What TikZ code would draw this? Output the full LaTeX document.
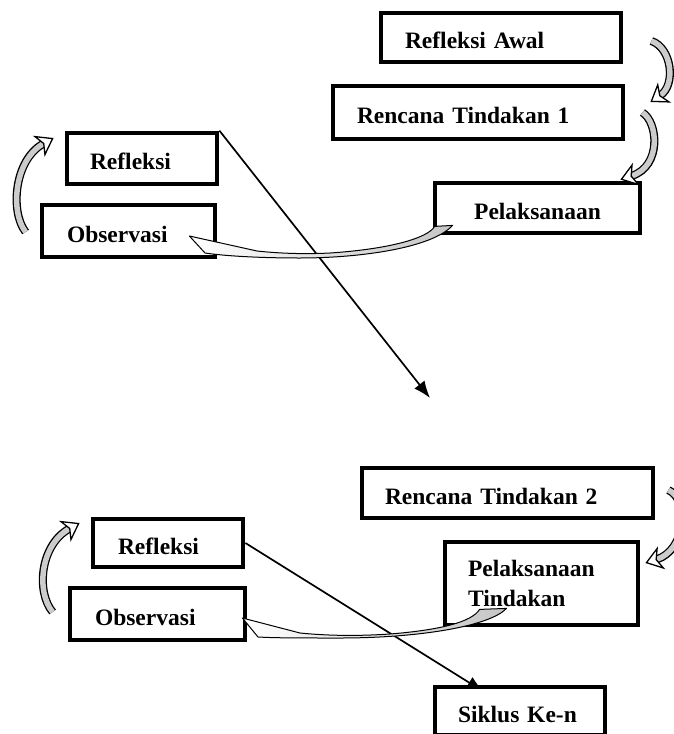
\documentclass[tikz,border=0pt]{standalone}
\usepackage{fontspec}
\setmainfont{Liberation Serif}
\usetikzlibrary{arrows.meta, calc, backgrounds}

\begin{document}
\begin{tikzpicture}[
    x=1pt, y=-1pt,
    kotak/.style={draw=black, line width=4.8pt, fill=white, align=left, inner ysep=0pt, font=\bfseries\fontsize{23.5}{30}\selectfont},
    sebaris/.style={text height=22pt, text depth=0pt},
    garis/.style={line width=1.7pt, -{Latex[length=17pt, width=13pt]}},
    lengkung/.style={draw=gray!40, line width=#1, -{Stealth[inset=5pt, length=17pt, width=24pt, color=black, fill=white, line width=1.3pt]}, preaction={draw=black, line width=#1+2.6pt, -, shorten >=12pt}},
    lengkung/.default=5.5pt,
    pita/.style={draw=black, line width=1pt, line join=round, left color=white, right color=gray!45}
]
\useasboundingbox (0,0) rectangle (673,734);

% --- Siklus 1 ---
\node[kotak, sebaris, minimum width=240pt, minimum height=49pt, inner xsep=24pt, text width=192pt] (awal) at (501,37.5) {Refleksi Awal};
\node[kotak, sebaris, minimum width=290pt, minimum height=53pt, inner xsep=24pt, text width=242pt] (rencanaA) at (478,112.5) {Rencana Tindakan 1};
\node[kotak, sebaris, minimum width=205pt, minimum height=50pt, inner xsep=20pt, text width=165pt, align=center] (pelaksanaanA) at (537.5,208) {Pelaksanaan};
\node[kotak, sebaris, minimum width=150pt, minimum height=51pt, inner xsep=23pt, text width=104pt] (refleksiA) at (142,158.5) {Refleksi};
\node[kotak, sebaris, minimum width=173pt, minimum height=52pt, inner xsep=25pt, text width=123pt] (observasiA) at (128.5,231) {Observasi};

% --- Siklus 2 ---
\node[kotak, sebaris, minimum width=291pt, minimum height=50pt, inner xsep=23pt, text width=245pt] (rencanaB) at (507.5,493) {Rencana Tindakan 2};
\node[kotak, minimum width=193pt, minimum height=83pt, inner xsep=23pt, text width=147pt] (pelaksanaanB) at (541.5,583.5) {Pelaksanaan\\Tindakan};
\node[kotak, sebaris, minimum width=150pt, minimum height=48pt, inner xsep=25pt, text width=100pt] (refleksiB) at (168,543) {Refleksi};
\node[kotak, sebaris, minimum width=175pt, minimum height=52pt, inner xsep=25pt, text width=125pt] (observasiB) at (157.5,614) {Observasi};
\node[kotak, sebaris, minimum width=170pt, minimum height=48pt, inner xsep=23pt, text width=124pt] (siklus) at (520,711) {Siklus Ke-n};

% --- Garis lurus antar siklus ---
\begin{scope}[on background layer]
\coordinate (ujung) at (430,398);
\draw[garis] (refleksiA.north east) -- (ujung);
\draw[garis] (refleksiB.east) -- ($(siklus.north west)+(51,7)$);
\end{scope}

% --- Panah lengkung siklus 1 ---
\draw[lengkung] ($(awal.east)+(28,3.5)$) .. controls (672,48) and (676,85) .. ($(rencanaA.east)+(25,-10.5)$);
\draw[lengkung] ($(rencanaA.east)+(17,0)$) .. controls (658,122) and (662,166) .. ($(pelaksanaanA.north east)+(-22,-1)$);
\draw[lengkung] ($(observasiA.west)+(-14,1)$) .. controls (10,212) and (14,160) .. ($(refleksiA.west)+(-11,-20.5)$);

\coordinate (p1) at ($(pelaksanaanA.south west)+(2,-9)$);
\coordinate (p1t) at ($(observasiA.east)+(-28,5)$);
\draw[pita] (p1) -- ++(18,-1) .. controls (432,248) and (360,258) .. (300,258) .. controls (260,258) and (225,256) .. (205,253) -- (p1t) -- (257,251) .. controls (285,254) and (310,254) .. (330,253) .. controls (390,249) and (428,238) .. (p1) -- cycle;

% --- Panah lengkung siklus 2 ---
\draw[lengkung] ($(rencanaB.east)+(13,-3)$) .. controls (690,500) and (686,550) .. ($(pelaksanaanB.east)+(5,-20.5)$);
\draw[lengkung] ($(observasiB.west)+(-15,-2)$) .. controls (36,592) and (40,545) .. ($(refleksiB.west)+(-11,-20)$);

\coordinate (p2) at ($(pelaksanaanB.south)+(-62,-18)$);
\coordinate (p2t) at ($(observasiB.east)+(-5,4)$);
\draw[pita] (p2) -- ++(27,-1) .. controls (490,626) and (420,638) .. (340,638) .. controls (300,638) and (275,638) .. (258,637) -- (p2t) -- (300,633) .. controls (330,636) and (360,636) .. (390,634) .. controls (440,630) and (472,622) .. (p2) -- cycle;

\end{tikzpicture}
\end{document}
